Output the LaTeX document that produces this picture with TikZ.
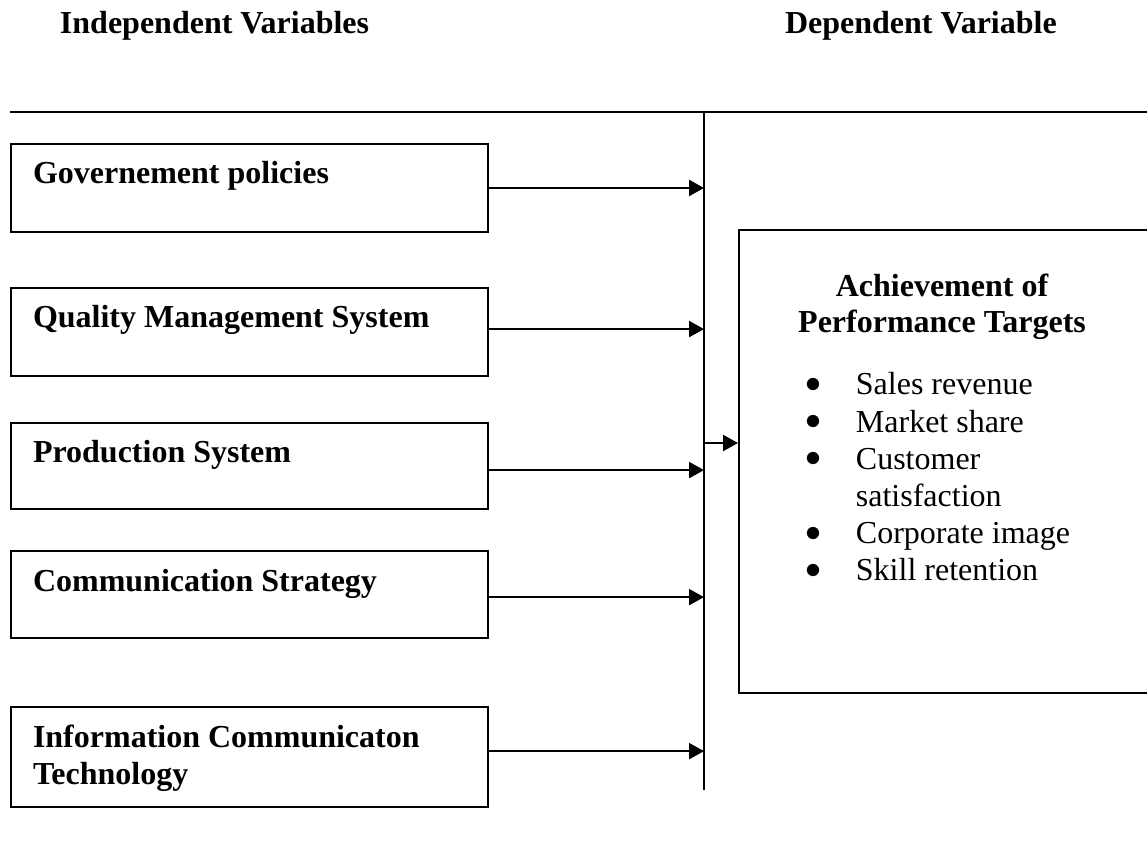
\documentclass[tikz,border=0pt]{standalone}
\usepackage{fontspec}
\setmainfont{Liberation Serif}
\usetikzlibrary{arrows.meta,calc}
\newcommand{\kpibullet}{\raisebox{0.8pt}{$\bullet$}}

\begin{document}
\fontsize{12}{13.9}\selectfont
\begin{tikzpicture}[x=0.375pt,y=-0.375pt,
    line width=0.75pt,
    ivbox/.style={draw,rectangle,anchor=north west,inner sep=0pt,minimum width=178.9pt},
    ivtext/.style={anchor=base west,inner sep=0pt,font=\bfseries},
    arr/.style={-{Triangle[length=5.6pt,width=6pt]}}]
      \useasboundingbox (0,0) rectangle (1147,845);
      \clip (0,0) rectangle (1147,845);

      % column headings
      \node[ivtext] (ivhead) at (59,34) {Independent Variables};
      \node[ivtext] (dvhead) at (784,34) {Dependent Variable};

      % rule under the headings and the collecting line
      \coordinate (ruleL) at (10,112);
      \coordinate (ruleR) at (1150,112);
      \coordinate (busT) at (704,112);
      \coordinate (busB) at (704,790);
      \draw (ruleL) -- (ruleR);
      \draw (busT) -- (busB);

      % independent variables
      \node[ivbox,minimum height=33pt] (gov) at (10,143) {};
      \node[ivbox,minimum height=33pt] (qms) at (10,287) {};
      \node[ivbox,minimum height=32.3pt] (prod) at (10,422) {};
      \node[ivbox,minimum height=32.6pt] (comm) at (10,550) {};
      \node[ivbox,minimum height=37.5pt] (ict) at (10,706) {};

      \node[ivtext] (govtxt) at ($(gov.north west)+(22,41)$) {Governement policies};
      \node[ivtext] (qmstxt) at ($(qms.north west)+(22,41)$) {Quality Management System};
      \node[ivtext] (prodtxt) at ($(prod.north west)+(22,40)$) {Production System};
      \node[ivtext] (commtxt) at ($(comm.north west)+(22,41)$) {Communication Strategy};
      \node[ivtext] (icttxt) at ($(ict.north west)+(22,41)$)
        {\begin{tabular}[t]{@{}l@{}}Information Communicaton\\Technology\end{tabular}};

      \draw[arr] (gov.east) -- (gov.east -| busT);
      \draw[arr] ([yshift=1.1pt]qms.east) -- ([yshift=1.1pt]qms.east -| busT);
      \draw[arr] ([yshift=-1.5pt]prod.east) -- ([yshift=-1.5pt]prod.east -| busT);
      \draw[arr] ([yshift=-1pt]comm.east) -- ([yshift=-1pt]comm.east -| busT);
      \draw[arr] ([yshift=2.2pt]ict.east) -- ([yshift=2.2pt]ict.east -| busT);

      % dependent variable
      \node[draw,rectangle,anchor=north west,inner sep=0pt,
            minimum width=160pt,minimum height=173.6pt] (dv) at (738,229) {};
      \coordinate (busmid) at (704,443);
      \draw[arr] (busmid) -- (busmid -| dv.west);

      \node[anchor=base,inner sep=0pt,font=\bfseries] (dvtitle) at (942,296)
        {\begin{tabular}[t]{@{}c@{}}Achievement of\\[-0.4pt]Performance Targets\end{tabular}};
      \node[anchor=base west,inner sep=0pt] (kpi) at (804,395)
        {\begin{tabular}[t]{@{}l@{\hspace{13.1pt}}l@{}}
          \kpibullet & Sales revenue\\
          \kpibullet & Market share\\
          \kpibullet & Customer\\
                     & satisfaction\\
          \kpibullet & Corporate image\\
          \kpibullet & Skill retention
        \end{tabular}};
    \end{tikzpicture}
\end{document}
